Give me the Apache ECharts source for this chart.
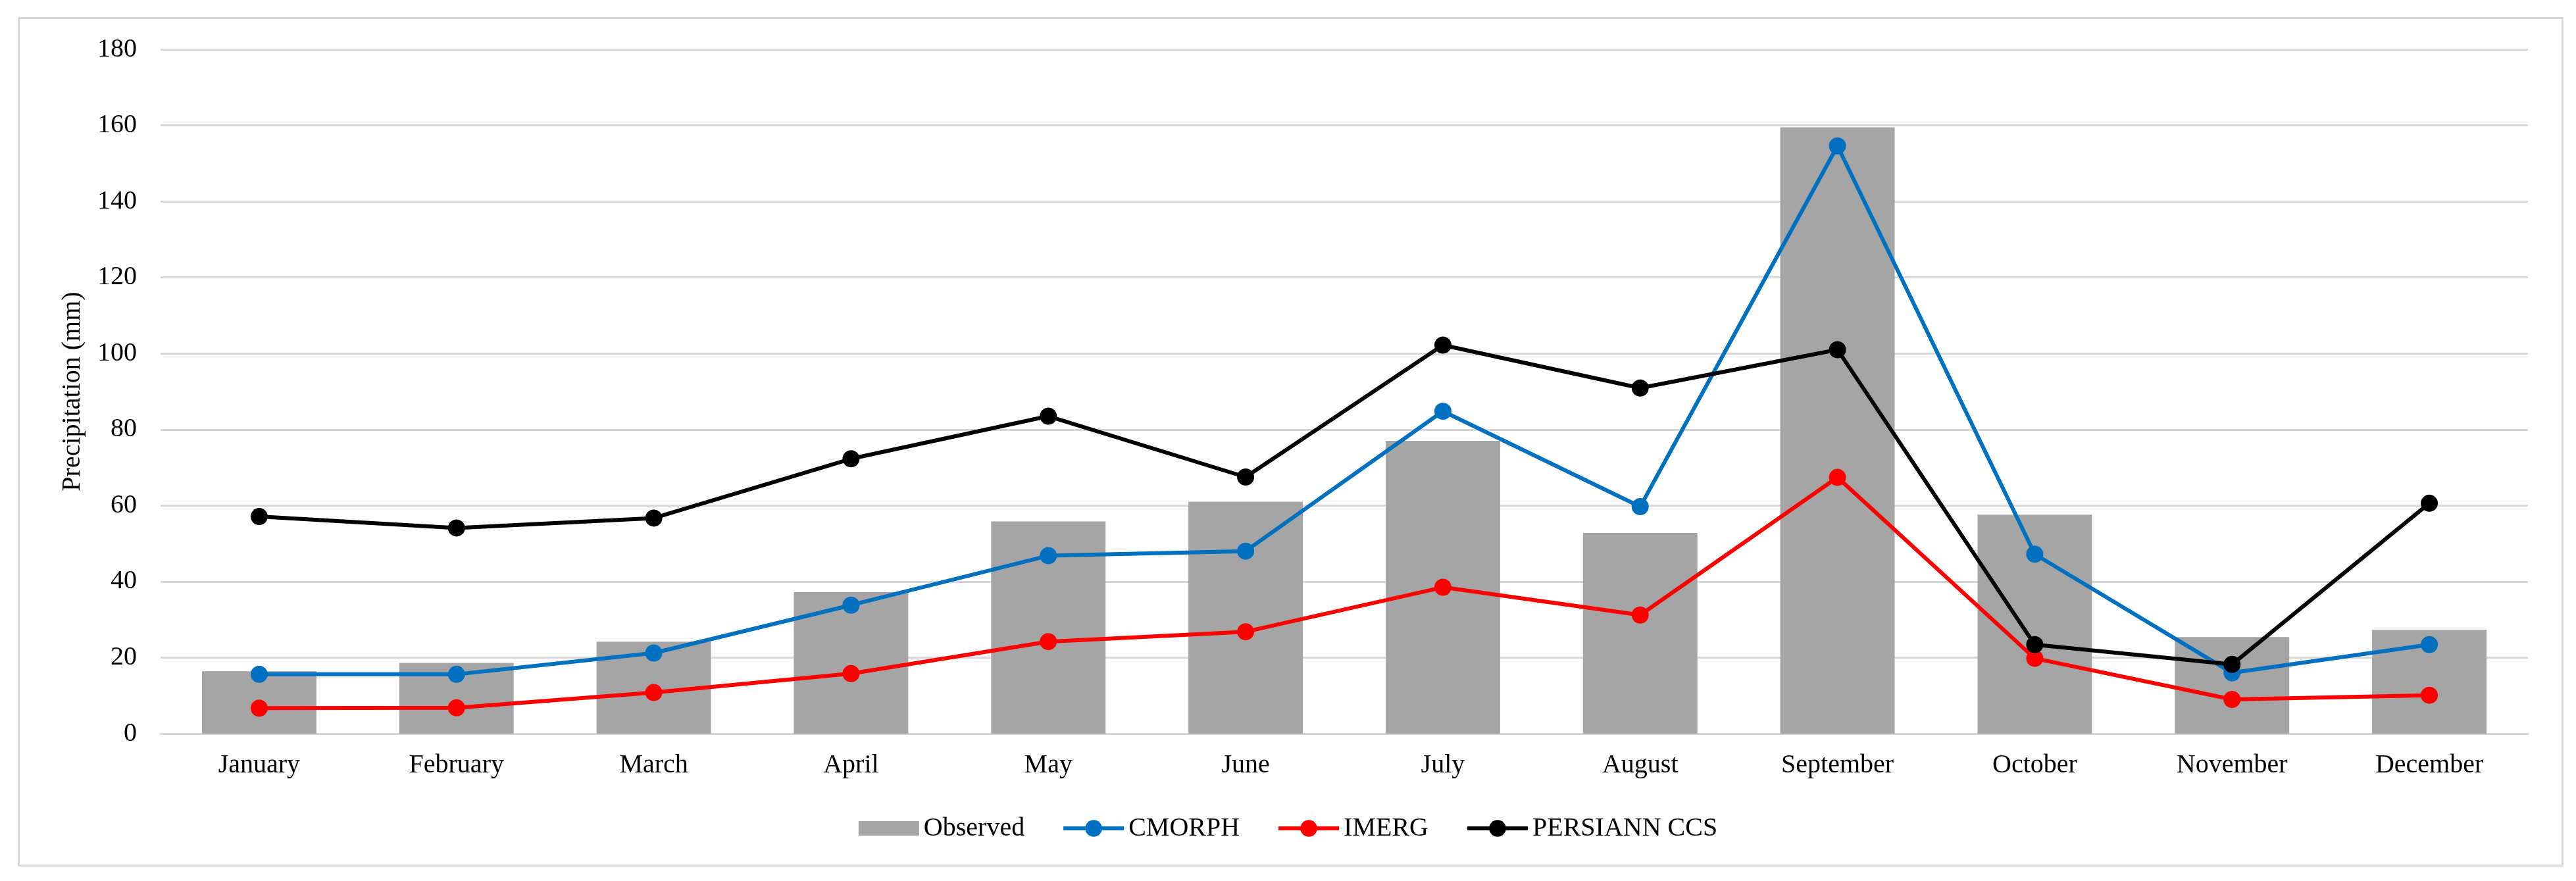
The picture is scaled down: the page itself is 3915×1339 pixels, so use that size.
<!DOCTYPE html>
<html>
<head>
<meta charset="utf-8">
<script src="https://cdn.jsdelivr.net/npm/echarts@6/dist/echarts.min.js"></script>
<style>html,body{margin:0;padding:0;background:#fff;}#c{width:3915px;height:1339px;}</style>
</head>
<body>
<div id="c"></div>
<script>
var months = ['January','February','March','April','May','June','July','August','September','October','November','December'];
var observed = [16.4, 18.6, 24.2, 37.2, 55.8, 61.0, 77.0, 52.8, 159.5, 57.6, 25.4, 27.3];
var cmorph   = [15.6, 15.6, 21.2, 33.8, 46.8, 48.0, 84.8, 59.7, 154.6, 47.2, 16.0, 23.4];
var imerg    = [6.7, 6.8, 10.8, 15.8, 24.2, 26.8, 38.5, 31.2, 67.4, 19.8, 9.0, 10.1];
var persiann = [57.1, 54.1, 56.7, 72.3, 83.5, 67.5, 102.2, 90.9, 101.0, 23.4, 18.2, 60.6];
var yTicks = {min: 0, max: 180, step: 20};

var font = 'Liberation Serif';
var chart = echarts.init(document.getElementById('c'));
function lineSeries(name, data, color) {
  return {
    name: name, type: 'line', data: data,
    symbol: 'circle', symbolSize: 26,
    lineStyle: {color: color, width: 6},
    itemStyle: {color: color},
    z: 3
  };
}
chart.setOption({
  animation: false,
  backgroundColor: '#fff',
  graphic: [{
    type: 'rect', left: 26, top: 25,
    shape: {width: 3866, height: 1288},
    style: {fill: 'none', stroke: '#d9d9d9', lineWidth: 3},
    silent: true
  }],
  grid: {left: 244, right: 73, top: 75, bottom: 224, containLabel: false},
  legend: {
    left: 'center', top: 1234,
    itemWidth: 92, itemHeight: 32, itemGap: 56,
    lineStyle: {width: 6},
    textStyle: {fontFamily: font, fontSize: 40, color: '#000', padding: [0, 0, 0, 2]},
    data: [
      {name: 'Observed', icon: 'path://M0,0L0.01,0M0,5h92v22h-92zM0,32L0.01,32'},
      'CMORPH', 'IMERG', 'PERSIANN CCS'
    ]
  },
  xAxis: {
    type: 'category', data: months,
    axisLine: {show: true, lineStyle: {color: '#d9d9d9', width: 3}},
    axisTick: {show: false},
    axisLabel: {fontFamily: font, fontSize: 40, color: '#000', margin: 28},
    splitLine: {show: false}
  },
  yAxis: {
    type: 'value', min: yTicks.min, max: yTicks.max, interval: yTicks.step,
    name: 'Precipitation (mm)', nameLocation: 'middle', nameGap: 114,
    nameTextStyle: {fontFamily: font, fontSize: 40, color: '#000'},
    axisLine: {show: false}, axisTick: {show: false},
    axisLabel: {fontFamily: font, fontSize: 40, color: '#000', margin: 36},
    splitLine: {lineStyle: {color: '#d9d9d9', width: 3}}
  },
  series: [
    {name: 'Observed', type: 'bar', data: observed, barWidth: '58%',
     itemStyle: {color: '#a5a5a5'}, z: 2},
    lineSeries('CMORPH', cmorph, '#0070c0'),
    lineSeries('IMERG', imerg, '#ff0000'),
    lineSeries('PERSIANN CCS', persiann, '#000000')
  ]
});
</script>
</body>
</html>
